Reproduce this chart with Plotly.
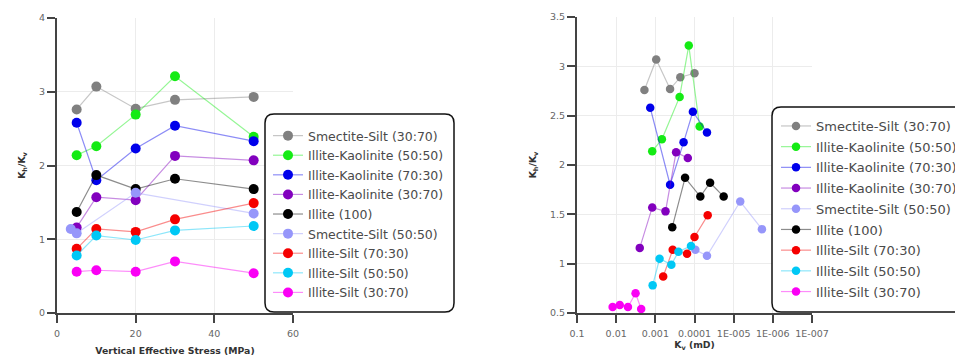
import plotly.graph_objects as go

W, H = 955, 356

# ---------------- data ----------------
stress_std = [5, 10, 20, 30, 50]
stress_ss5050 = [3.5, 5, 20, 50]

names_left = [
    "Smectite-Silt (30:70)", "Illite-Kaolinite (50:50)", "Illite-Kaolinite (70:30)",
    "Illite-Kaolinite (30:70)", "Illite (100)", "Smectite-Silt (50:50)",
    "Illite-Silt (70:30)", "Illite-Silt (50:50)", "Illite-Silt (30:70)",
]
names_right = [
    "Smectite-Silt (30:70)", "Illite-Kaolinite (50:50)", "Illite-Kaolinite (70:30)",
    "Illite-Kaolinite (30:70)", "Smectite-Silt (50:50)", "Illite (100)",
    "Illite-Silt (70:30)", "Illite-Silt (50:50)", "Illite-Silt (30:70)",
]

ratio = {
    "Smectite-Silt (30:70)": [2.76, 3.07, 2.77, 2.89, 2.93],
    "Illite-Kaolinite (50:50)": [2.14, 2.26, 2.69, 3.21, 2.39],
    "Illite-Kaolinite (70:30)": [2.58, 1.80, 2.23, 2.54, 2.33],
    "Illite-Kaolinite (30:70)": [1.16, 1.57, 1.53, 2.13, 2.07],
    "Illite (100)": [1.37, 1.87, 1.68, 1.82, 1.68],
    "Smectite-Silt (50:50)": [1.14, 1.08, 1.63, 1.35],
    "Illite-Silt (70:30)": [0.87, 1.14, 1.10, 1.27, 1.49],
    "Illite-Silt (50:50)": [0.78, 1.05, 0.99, 1.12, 1.18],
    "Illite-Silt (30:70)": [0.56, 0.58, 0.56, 0.70, 0.54],
}

# vertical permeability Kv (mD)
kv = {
    "Smectite-Silt (30:70)": [1.9e-3, 9.5e-4, 4.2e-4, 2.3e-4, 1.0e-4],
    "Illite-Kaolinite (50:50)": [1.2e-3, 6.8e-4, 2.4e-4, 1.4e-4, 7.4e-5],
    "Illite-Kaolinite (70:30)": [1.35e-3, 4.2e-4, 1.9e-4, 1.1e-4, 4.8e-5],
    "Illite-Kaolinite (30:70)": [2.5e-3, 1.2e-3, 5.5e-4, 2.95e-4, 1.48e-4],
    "Illite (100)": [3.7e-4, 1.74e-4, 7.1e-5, 4.0e-5, 1.8e-5],
    "Smectite-Silt (50:50)": [9.5e-5, 4.8e-5, 6.8e-6, 1.9e-6],
    "Illite-Silt (70:30)": [6.3e-4, 3.6e-4, 1.55e-4, 1.0e-4, 4.6e-5],
    "Illite-Silt (50:50)": [1.17e-3, 7.8e-4, 3.9e-4, 2.57e-4, 1.23e-4],
    "Illite-Silt (30:70)": [1.23e-2, 8.1e-3, 5.0e-3, 3.2e-3, 2.3e-3],
}

colors = {
    "Smectite-Silt (30:70)": (128, 128, 128),
    "Illite-Kaolinite (50:50)": (20, 235, 20),
    "Illite-Kaolinite (70:30)": (0, 0, 235),
    "Illite-Kaolinite (30:70)": (130, 0, 190),
    "Illite (100)": (0, 0, 0),
    "Smectite-Silt (50:50)": (150, 150, 250),
    "Illite-Silt (70:30)": (245, 0, 0),
    "Illite-Silt (50:50)": (0, 200, 245),
    "Illite-Silt (30:70)": (250, 0, 245),
}

x_ticks_right = [0.1, 0.01, 0.001, 0.0001, 1e-5, 1e-6, 1e-7]
x_ticktext_right = ["0.1", "0.01", "0.001", "0.0001", "1E-005", "1E-006", "1E-007"]

FONT = "DejaVu Sans"

fig = go.Figure()


def rgb(c, a=1.0):
    return f"rgba({c[0]},{c[1]},{c[2]},{a})"


for n in names_left:
    xs = stress_ss5050 if n == "Smectite-Silt (50:50)" else stress_std
    fig.add_trace(go.Scatter(
        x=xs, y=ratio[n], mode="lines+markers", name=n,
        line=dict(color=rgb(colors[n], 0.45), width=1.2),
        marker=dict(color=rgb(colors[n]), size=10),
        xaxis="x", yaxis="y", legend="legend", legendgroup="L" + n,
    ))

for n in names_right:
    fig.add_trace(go.Scatter(
        x=kv[n], y=ratio[n], mode="lines+markers", name=n,
        line=dict(color=rgb(colors[n], 0.45), width=1.2),
        marker=dict(color=rgb(colors[n]), size=8.5),
        xaxis="x2", yaxis="y2", legend="legend2", legendgroup="R" + n,
    ))


def px(x):
    return x / W


def py(y):
    return 1 - y / H


axis_common = dict(
    showline=True, linecolor="#444", linewidth=2, automargin=False,
    ticks="outside", ticklen=8, tickwidth=2, tickcolor="#444",
    showgrid=True, gridcolor="#ececec", gridwidth=1, zeroline=False,
    tickfont=dict(family=FONT, size=9.5, color="#666"),
)

left_x0, left_x1, left_ybot, left_ytop = 57, 293, 313, 18
right_x0, right_x1, right_ybot, right_ytop = 577, 812, 313, 17

title_font = dict(family=FONT, size=9.3, color="#333")

fig.update_layout(
    width=W, height=H, margin=dict(l=0, r=0, t=0, b=0, autoexpand=False),
    paper_bgcolor="white", plot_bgcolor="white",
    font=dict(family=FONT, color="#444"),
    xaxis=dict(domain=[px(left_x0), px(left_x1)], range=[0, 60], tickvals=[0, 20, 40, 60],
               anchor="y", ticklabelstandoff=3,
               title=dict(text="<b>Vertical Effective Stress (MPa)</b>",
                          font=title_font, standoff=11),
               **axis_common),
    yaxis=dict(domain=[py(left_ybot), py(left_ytop)], range=[0, 4], tickvals=[0, 1, 2, 3, 4],
               anchor="x",
               title=dict(text="<b>K<sub>h</sub>/K<sub>v</sub></b>",
                          font=title_font, standoff=12),
               **axis_common),
    xaxis2=dict(domain=[px(right_x0), px(right_x1)], type="log", range=[-1, -7],
                tickvals=x_ticks_right, ticktext=x_ticktext_right, anchor="y2",
                ticklabelstandoff=3,
                title=dict(text="<b>K<sub>v</sub> (mD)</b>",
                           font=title_font, standoff=1),
                **axis_common),
    yaxis2=dict(domain=[py(right_ybot), py(right_ytop)], range=[0.5, 3.5],
                tickvals=[0.5, 1, 1.5, 2, 2.5, 3, 3.5],
                ticktext=["0.5", "1", "1.5", "2", "2.5", "3", "3.5"], anchor="x2",
                title=dict(text="<b>K<sub>h</sub>/K<sub>v</sub></b>",
                           font=title_font, standoff=12),
                **axis_common),
    legend=dict(x=px(268), y=py(121), xanchor="left", yanchor="top",
                bgcolor="rgba(0,0,0,0)", borderwidth=0,
                font=dict(family=FONT, size=12.5, color="#4a4a4a"),
                tracegroupgap=0.35, itemwidth=30),
    legend2=dict(x=px(776), y=py(111), xanchor="left", yanchor="top",
                 bgcolor="rgba(0,0,0,0)", borderwidth=0,
                 font=dict(family=FONT, size=13, color="#4a4a4a"),
                 tracegroupgap=0.8, itemwidth=30),
    showlegend=True,
)


def rounded_rect(x0, y0, x1, y1, r):
    X0, X1 = px(x0), px(x1)
    Y0, Y1 = py(y0), py(y1)
    rx, ry = r / W, r / H
    return (f"M {X0+rx},{Y0} L {X1-rx},{Y0} Q {X1},{Y0} {X1},{Y0-ry} "
            f"L {X1},{Y1+ry} Q {X1},{Y1} {X1-rx},{Y1} L {X0+rx},{Y1} "
            f"Q {X0},{Y1} {X0},{Y1+ry} L {X0},{Y0-ry} Q {X0},{Y0} {X0+rx},{Y0} Z")


fig.add_shape(type="path", xref="paper", yref="paper",
              path=rounded_rect(265, 114, 454, 312, 9),
              line=dict(color="#111", width=1.5), fillcolor="white", layer="above")
fig.add_shape(type="path", xref="paper", yref="paper",
              path=rounded_rect(772, 107, 975, 312, 9),
              line=dict(color="#111", width=1.5), fillcolor="white", layer="above")

fig.write_html("out.html")
